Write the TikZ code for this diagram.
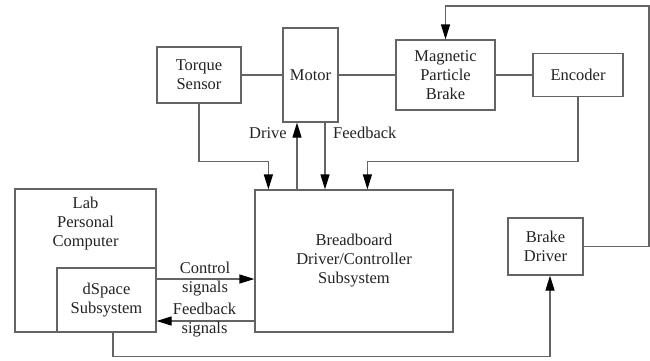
\documentclass[tikz,border=0pt]{standalone}
\usepackage{fontspec}
\setmainfont{Liberation Serif}
\newfontfamily\tmsfont{Liberation Serif}
\usetikzlibrary{arrows.meta}
\definecolor{lc}{RGB}{100,100,100}
\definecolor{tc}{RGB}{35,35,35}
\begin{document}
\begin{tikzpicture}[x=1pt,y=-1pt,
  every node/.style={font=\tmsfont\fontsize{16.5}{19}\selectfont, text=tc, align=center, inner sep=0pt},
  blk/.style={draw=lc, line width=1.2pt, minimum width=#1},
  conn/.style={draw=lc, line width=1.2pt},
  arr/.style={conn, -{Triangle[length=15pt,width=9pt,fill=black,color=black]}}]
\useasboundingbox (0,0) rectangle (650,360);
\fill[white] (0,0) rectangle (650,360);
% blocks
\node[blk=84pt, minimum height=56pt] (torque) at (199,75) {Torque\\Sensor};
\node[blk=55pt, minimum height=94pt] (motor) at (310.5,75) {Motor};
\node[blk=99pt, minimum height=70pt] (mpb) at (445.5,75) {Magnetic\\Particle\\Brake};
\node[blk=90pt, minimum height=43pt] (enc) at (578,75) {Encoder};
\node[blk=198pt, minimum height=142pt] (bb) at (354,261) {Breadboard\\Driver/Controller\\Subsystem};
\node[blk=141pt, minimum height=143pt] (lab) at (85.5,260.5) {};
\node (labtxt) at (85.5,224) {Lab\\Personal\\Computer};
\node[blk=99pt, minimum height=64pt] (dsp) at (106.5,300) {dSpace\\Subsystem};
\node[blk=75pt, minimum height=57pt] (bd) at (545.5,246.5) {Brake\\Driver};
\coordinate (topright) at (649,6);
% shaft links
\draw[conn] (torque.east) -- (motor.west);
\draw[conn] (motor.east) -- (mpb.west);
\draw[conn] (mpb.east) -- (enc.west);
% signals
\draw[arr] (torque.south) -- ++(0,58) -| ([xshift=14pt]bb.north west);
\draw[arr] ([xshift=-13.5pt]motor.south |- bb.north) -- ([xshift=-13.5pt]motor.south);
\draw[arr] ([xshift=14.5pt]motor.south) -- ([xshift=14.5pt]motor.south |- bb.north);
\draw[arr] (enc.south) -- ++(0,64) -| ([xshift=113pt]bb.north west);
\draw[arr] (bd.east) -| (topright) -| (mpb.north);
\draw[arr] ([yshift=21pt]dsp.east) -- ([yshift=21pt]dsp.east -| bb.west);
\draw[arr] ([yshift=-21pt]dsp.east -| bb.west) -- ([yshift=-21pt]dsp.east);
\draw[arr] ([xshift=6.5pt]dsp.south) -- ++(0,24) -| ([xshift=4.5pt]bd.south);
% labels
\node[anchor=east] (ldrive) at (287,133) {Drive};
\node[anchor=west] (lfb) at (333,133) {Feedback};
\node (lctrl) at (205,279.5) {Control\\signals};
\node (lfbs) at (204.5,320.5) {Feedback\\signals};
\end{tikzpicture}
\end{document}
